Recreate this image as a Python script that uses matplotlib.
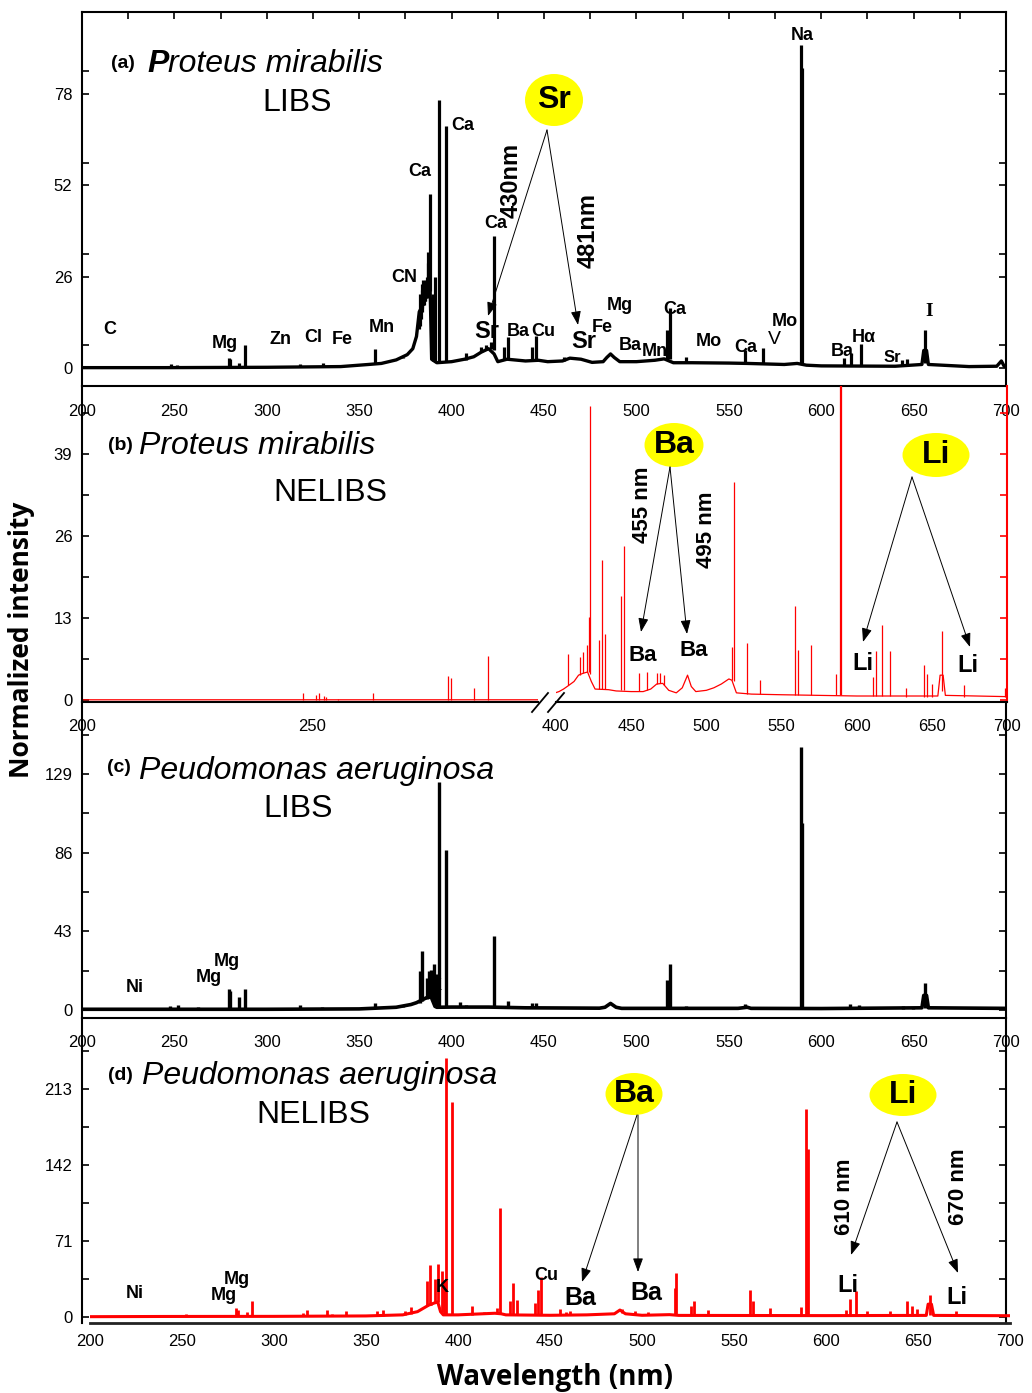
import numpy as np
import matplotlib
matplotlib.use('Agg')
import matplotlib.pyplot as plt
from matplotlib.patches import Ellipse, FancyArrowPatch
from matplotlib.lines import Line2D
from matplotlib.ticker import FixedLocator

plt.rcParams['font.family'] = ['Liberation Sans', 'DejaVu Sans']

W, H = 1032, 1393

# ------------------------------------------------------------------ data
x_ticks = [200, 250, 300, 350, 400, 450, 500, 550, 600, 650, 700]
b_left_ticks = [200, 250]
b_right_ticks = [400, 450, 500, 550, 600, 650, 700]
a_yticks = [0, 26, 52, 78]
b_yticks = [0, 13, 26, 39]
c_yticks = [0, 43, 86, 129]
d_yticks = [0, 71, 142, 213]

# (a) Proteus mirabilis, LIBS
a_base_nm = [200, 245, 300, 340, 355, 362, 370, 376, 379, 381, 382.5, 384.5, 386.5, 388.4, 389.2,
             392, 400, 407, 412, 416, 420, 423, 425, 430, 440, 447, 452, 460, 464, 470, 476, 482,
             484, 486, 488, 491, 500, 510, 515, 520, 530, 550, 560, 580, 587, 592, 600, 640, 654.5,
             655.5, 657, 658, 680, 695, 697.5, 699, 700]
a_base_int = [0.1, 0.1, 0.2, 0.4, 1.0, 1.3, 2.3, 3.8, 5.5, 9, 16, 18, 21, 22, 2.5,
              1.5, 1.8, 2.5, 3.2, 4.5, 5.5, 4, 1.8, 2.5, 2.0, 2.2, 1.8, 2.0, 2.8, 2.5, 1.6, 1.8,
              3.0, 4.0, 3.0, 1.8, 1.8, 2.2, 2.6, 1.5, 1.5, 1.4, 1.3, 1.0, 1.3, 0.8, 0.6, 0.5, 1.0,
              5.0, 5.0, 1.0, 0.4, 0.5, 2.0, 0.5, 0.4]
a_peak_nm = [247.9, 251.6, 263.0, 279.6, 280.3, 285.2, 288.2, 317.9, 330.2, 358.6, 373.5,
             382.4, 383.0, 383.5, 383.8, 384.2, 384.7, 385.0, 385.4, 385.7, 386.1, 386.5, 387.0,
             387.3, 387.6, 388.3, 389.8, 390.9, 393.4, 396.8,
             407.8, 416.0, 418.5, 421.5, 422.7, 428.5, 430.7, 443.4, 445.5, 460.7, 466.0,
             516.7, 518.3, 527.0, 559.0, 568.7, 588.9, 589.6, 612.5, 616.2, 621.7, 643.5, 646.5, 656.3]
a_peak_int = [1.2, 0.9, 0.7, 2.9, 2.7, 1.4, 6.6, 1.0, 1.4, 5.3, 3.0,
              15.0, 21.0, 20.0, 22.2, 24.0, 25.0, 23.0, 24.0, 24.0, 25.0, 26.0, 33.1,
              30.0, 30.0, 49.5, 21.0, 26.0, 76.4, 68.8,
              4.2, 6.0, 6.5, 7.5, 37.6, 6.0, 8.9, 6.1, 9.0, 3.0, 3.2,
              10.8, 17.0, 3.2, 5.1, 5.6, 92.0, 85.4, 2.8, 4.2, 6.8, 2.3, 2.5, 10.8]
a_peak_floor = [0.1, 0.1, 0.1, 0.1, 0.1, 0.1, 0.1, 0.3, 0.3, 1.1, 2.8,
                11, 12, 14, 16, 17, 18, 18, 19, 19, 20, 20, 21,
                21, 22, 22, 2, 1.6, 1.6, 1.7,
                2.4, 4.5, 5, 5.5, 5, 2.2, 2.4, 2.1, 2.1, 2.0, 2.6,
                2.5, 2.5, 1.5, 1.3, 1.1, 1.1, 1.1, 0.6, 0.6, 0.6, 0.5, 0.5, 1.5]

# (b) Proteus mirabilis, NELIBS
b_base_nm = [200, 299, 399.5, 402, 405, 408, 412, 415, 418, 421, 423.5, 426, 435, 440, 450, 458,
             463, 467, 471, 475, 480, 484, 487.5, 490, 493, 500, 505, 510, 515, 517, 520, 530,
             550, 600, 654, 655.5, 657.5, 659, 700]
b_base_int = [0.1, 0.1, 1.2, 1.4, 1.8, 2.3, 3.0, 4.0, 4.3, 4.5, 3.0, 1.8, 1.7, 1.5, 1.4, 1.4,
              1.8, 2.6, 2.7, 1.6, 1.2, 2.0, 4.0, 2.2, 1.4, 1.6, 2.0, 2.6, 3.4, 3.2, 1.2, 1.0,
              0.9, 0.7, 0.7, 4.0, 4.0, 0.8, 0.6]
b_peak_nm = [248.0, 250.9, 251.6, 252.5, 253.0, 255.6, 263.2, 279.6, 280.3, 285.2, 288.2,
             408.2, 416.0, 418.2, 420.4, 421.8, 422.7, 428.9, 430.3, 432.7, 443.5, 445.5,
             455.5, 460.7, 467.5, 469.5, 472.0, 516.9, 518.4, 527.0, 535.5, 559.0, 560.8,
             569.8, 586.5, 589.0, 589.6, 611.0, 613.0, 616.9, 622.5, 632.5, 644.6, 647.0,
             650.2, 656.5, 671.5, 698.5]
b_peak_int = [1.1, 0.9, 1.2, 0.7, 0.6, 0.3, 1.2, 3.8, 3.6, 2.0, 7.1,
              7.4, 6.9, 7.7, 8.7, 13.2, 46.6, 9.5, 22.3, 10.5, 16.6, 24.5,
              4.4, 4.5, 4.3, 4.4, 4.0, 8.4, 34.6, 9.1, 3.2, 15.0, 8.0,
              8.7, 4.2, 60.0, 60.0, 3.7, 7.9, 12.0, 7.8, 2.0, 5.6, 4.2,
              2.6, 11.0, 2.5, 2.0]
b_peak_floor = [0.1, 0.1, 0.1, 0.1, 0.1, 0.1, 0.1, 0.1, 0.1, 0.1, 0.1,
                2.4, 4.0, 4.3, 4.5, 4.5, 4.2, 1.8, 1.8, 1.8, 1.6, 1.6,
                1.5, 1.6, 2.6, 2.8, 2.4, 3.2, 3.0, 1.0, 1.0, 0.9, 0.9,
                0.9, 0.9, 0.9, 0.9, 0.7, 0.7, 0.7, 0.7, 0.6, 0.6, 0.6,
                0.6, 1.5, 0.6, 0.6]

# (c) Peudomonas aeruginosa, LIBS
c_base_nm = [200, 300, 350, 370, 378, 381, 383, 385, 387, 389, 391, 392, 400, 420, 440, 480,
             483, 486, 489, 492, 555, 560, 562, 600, 654.5, 655.5, 657, 658, 700]
c_base_int = [0.4, 0.4, 0.6, 1.5, 3.0, 4, 5, 6, 7, 7, 2, 1.5, 1.6, 1.6, 1.2, 1.0,
              1.5, 3.6, 1.5, 0.9, 0.9, 1.5, 0.9, 0.8, 1.2, 8, 8, 1.2, 0.9]
c_peak_nm = [247.5, 251.7, 263.0, 279.5, 280.3, 285.2, 288.2, 317.8, 330.0, 358.6, 373.8,
             383.0, 384.0, 386.5, 387.8, 388.6, 390.3, 391.3, 393.4, 396.8, 404.6, 407.8,
             415.0, 422.7, 430.5, 443.6, 445.5, 460.8, 516.8, 518.3, 526.8, 558.9, 568.5,
             588.9, 589.6, 610.5, 615.5, 620.5, 644.0, 649.5, 656.3]
c_peak_int = [2.2, 2.6, 1.5, 11.3, 10.2, 6.9, 11.7, 2.5, 1.5, 3.6, 2.6,
              21.5, 32.3, 17.5, 21.5, 22.0, 25.1, 19.5, 124.8, 87.5, 4.6, 2.8,
              1.8, 40.4, 4.9, 3.6, 3.9, 1.3, 16.4, 25.0, 2.0, 3.3, 1.8,
              144.0, 102.0, 1.5, 3.3, 2.5, 2.0, 1.5, 14.6]
c_peak_floor = [0.4, 0.4, 0.4, 0.4, 0.4, 0.4, 0.4, 0.5, 0.5, 1.0, 1.5,
                4, 5, 6, 7, 7, 4, 2, 1.5, 1.6, 1.6, 1.6,
                1.5, 1.6, 1.5, 1.3, 1.3, 0.9, 1.0, 1.0, 0.9, 0.9, 0.9,
                0.9, 0.9, 0.8, 0.8, 0.8, 0.8, 0.8, 1.2]

# (d) Peudomonas aeruginosa, NELIBS
d_base_nm = [200, 240, 300, 350, 370, 378, 382, 384, 387, 389, 390.5, 392, 400, 420, 423.5, 426,
             450, 470, 485, 488, 491, 500, 515, 520, 600, 654.5, 655.5, 657.3, 658.5, 700]
d_base_int = [0.3, 0.5, 0.6, 1.0, 2.0, 5.0, 9, 11, 13, 14, 5, 2, 2.0, 3.5, 3.0, 2.0,
              1.6, 2.0, 3, 6.5, 3, 1.6, 2.2, 1.5, 1.3, 1.5, 12, 12, 1.5, 1.2]
d_peak_nm = [252.0, 263.3, 279.6, 280.3, 285.2, 288.2, 298.8, 316.0, 318.0, 328.8, 331.5, 339.0,
             356.2, 359.5, 364.8, 371.4, 374.3, 383.2, 384.6, 385.5, 387.7, 389.1, 391.3, 392.4,
             393.4, 396.8, 407.7, 414.2, 421.4, 422.7, 428.0, 430.1, 432.2, 442.0, 443.4, 445.3,
             455.6, 458.5, 461.0, 489.0, 496.2, 503.5, 517.8, 518.7, 526.4, 528.2, 536.0, 558.9,
             560.1, 569.3, 586.2, 589.2, 590.0, 611.0, 612.8, 616.5, 622.2, 634.9, 644.0, 646.7,
             649.7, 656.4, 670.8]
d_peak_int = [2.8, 2.0, 8.1, 6.9, 4.7, 14.6, 1.5, 3.7, 6.2, 6.2, 3.0, 5.3,
              5.3, 6.9, 3.0, 5.3, 9.3, 33.2, 48.9, 13.4, 35.5, 49.8, 43.3, 34.9,
              242.0, 200.9, 9.9, 5.0, 8.0, 102.0, 15.2, 31.3, 16.0, 12.8, 24.9, 37.4,
              7.5, 5.0, 6.0, 7.8, 5.3, 5.0, 27.0, 41.1, 10.0, 15.2, 7.0, 24.9,
              15.0, 8.4, 9.0, 194.6, 156.7, 6.9, 16.8, 23.9, 6.0, 5.5, 14.6, 9.9,
              7.5, 20.8, 5.3]
d_peak_floor = [0.6, 0.6, 0.6, 0.6, 0.6, 0.6, 0.6, 0.8, 0.8, 0.8, 0.8, 0.8,
                1.2, 1.2, 1.5, 2.0, 2.5, 10, 11, 11, 13, 14, 5, 3,
                2.0, 2.0, 2.2, 2.5, 3.5, 4, 2.5, 2.5, 2.5, 2.0, 2.0, 2.0,
                1.5, 1.5, 1.5, 4, 1.5, 1.5, 2.5, 2.5, 1.5, 1.5, 1.5, 1.5,
                1.5, 1.5, 1.5, 1.5, 1.5, 1.3, 1.3, 1.3, 1.3, 1.3, 1.3, 1.3,
                1.3, 2.0, 1.2]

# ------------------------------------------------------------------ layout helpers
fig = plt.figure(figsize=(W / 100, H / 100), dpi=100)


def box(x0, y0, x1, y1):
    return [x0 / W, 1 - y1 / H, (x1 - x0) / W, (y1 - y0) / H]


def fx(x):
    return x / W


def fy(y):
    return 1 - y / H


RED = '#FF0000'
TICK_FS = 12


def style_y(ax, major, step, right=True, left=True):
    minor = [m + step / 2 for m in major]
    ax.yaxis.set_major_locator(FixedLocator(major))
    ax.yaxis.set_minor_locator(FixedLocator(minor))
    ax.tick_params(axis='y', which='both', direction='in', length=5, width=1.2,
                   left=left, right=right, labelleft=left, labelright=False,
                   labelsize=TICK_FS, pad=7)


def spectrum(ax, bx, by, px, py, pf, color, lw_base, lw_peak):
    ax.plot(bx, by, color=color, lw=lw_base, solid_joinstyle='round')
    ax.vlines(px, pf, py, color=color, lw=lw_peak)


# ------------------------------------------------------------------ panel a
ax_a = fig.add_axes(box(82, 12, 1006, 386))
ax_a.set_xlim(200, 700)
ax_a.set_ylim(-5.13, 101.4)
spectrum(ax_a, a_base_nm, a_base_int, a_peak_nm, a_peak_int, a_peak_floor, 'black', 2.4, 2.3)
ax_a.xaxis.set_major_locator(FixedLocator(x_ticks))
ax_a.xaxis.set_minor_locator(FixedLocator([t + 25 for t in x_ticks[:-1]]))
ax_a.tick_params(axis='x', which='both', direction='in', length=5, width=1.2,
                 bottom=False, top=True, labelsize=TICK_FS, pad=13)
style_y(ax_a, a_yticks, 13)
for s in ax_a.spines.values():
    s.set_linewidth(1.5)

# ------------------------------------------------------------------ panel b (broken axis)
b_ylim = (-0.25, 49.8)
ax_bl = fig.add_axes(box(82, 386, 538, 702))
ax_br = fig.add_axes(box(556, 386, 1007, 702))
for ax in (ax_bl, ax_br):
    spectrum(ax, b_base_nm, b_base_int, b_peak_nm, b_peak_int, b_peak_floor, RED, 0.9, 0.9)
    ax.set_ylim(*b_ylim)
    ax.spines['top'].set_visible(False)
    ax.spines['bottom'].set_linewidth(1.5)
    ax.patch.set_alpha(0)
ax_bl.set_xlim(200, 200 + 456 / 4.6)
ax_br.set_xlim(400, 700)
ax_bl.spines['right'].set_visible(False)
ax_bl.spines['left'].set_linewidth(1.5)
ax_br.spines['left'].set_visible(False)
ax_br.spines['right'].set_color(RED)
ax_br.spines['right'].set_linewidth(1.5)
ax_bl.xaxis.set_major_locator(FixedLocator(b_left_ticks))
ax_br.xaxis.set_major_locator(FixedLocator(b_right_ticks))
for ax in (ax_bl, ax_br):
    ax.tick_params(axis='x', which='both', length=0, labelsize=TICK_FS, pad=12)
style_y(ax_bl, b_yticks, 13, right=False)
style_y(ax_br, b_yticks, 13, left=False)
ax_br.tick_params(axis='y', which='both', colors=RED)

# break marks
for x0 in (532, 548):
    fig.add_artist(Line2D([fx(x0), fx(x0 + 16)], [fy(712), fy(693)], color='black', lw=1.3,
                          transform=fig.transFigure))

# ------------------------------------------------------------------ panel c
ax_c = fig.add_axes(box(82, 702, 1006, 1018))
ax_c.patch.set_alpha(0)
ax_c.set_xlim(200, 700)
ax_c.set_ylim(-4.37, 168.4)
spectrum(ax_c, c_base_nm, c_base_int, c_peak_nm, c_peak_int, c_peak_floor, 'black', 2.6, 2.4)
ax_c.spines['top'].set_visible(False)
for s in ('left', 'right', 'bottom'):
    ax_c.spines[s].set_linewidth(1.5)
ax_c.xaxis.set_major_locator(FixedLocator(x_ticks))
ax_c.tick_params(axis='x', which='both', length=0, labelsize=TICK_FS, pad=12)
style_y(ax_c, c_yticks, 43)

# ------------------------------------------------------------------ panel d
ax_dy = fig.add_axes(box(82, 1018, 1006, 1323))
ax_dy.patch.set_alpha(0)
ax_dy.set_ylim(-5.6, 279.3)
ax_dy.set_xticks([])
ax_dy.spines['top'].set_visible(False)
ax_dy.spines['bottom'].set_visible(False)
for s in ('left', 'right'):
    ax_dy.spines[s].set_linewidth(1.5)
style_y(ax_dy, d_yticks, 71)

ax_d = fig.add_axes(box(90, 1018, 1010, 1323))
ax_d.patch.set_alpha(0)
ax_d.set_xlim(200, 700)
ax_d.set_ylim(-5.6, 279.3)
spectrum(ax_d, d_base_nm, d_base_int, d_peak_nm, d_peak_int, d_peak_floor, RED, 2.2, 2.0)
for s in ('left', 'right', 'top'):
    ax_d.spines[s].set_visible(False)
ax_d.spines['bottom'].set_linewidth(2.0)
ax_d.spines['bottom'].set_color('#222222')
ax_d.set_yticks([])
ax_d.xaxis.set_major_locator(FixedLocator(x_ticks))
ax_d.tick_params(axis='x', which='both', length=0, labelsize=TICK_FS, pad=8)

# ------------------------------------------------------------------ text
def T(x, y, s, size=13, weight='bold', rot=0, family=None, style='normal', ha='center', va='center'):
    kw = {}
    if family is not None:
        kw['family'] = family
    return fig.text(fx(x), fy(y), s, fontsize=size, fontweight=weight, rotation=rot,
                    style=style, ha=ha, va=va, **kw)


# panel titles
T(123, 64, '(a)', 14)
tp = T(147, 64, 'P', 23, 'bold', style='italic', ha='left')
fig.canvas.draw()
bb = tp.get_window_extent()
fig.text(bb.x1 / W, fy(64), 'roteus mirabilis', fontsize=23, style='italic', ha='left', va='center')
T(297, 103, 'LIBS', 23, 'normal')

T(120, 446, '(b)', 14)
T(139, 446, 'Proteus mirabilis', 23, 'normal', style='italic', ha='left')
T(330, 493, 'NELIBS', 23, 'normal')

T(119, 768, '(c)', 14)
T(139, 771, 'Peudomonas aeruginosa', 23, 'normal', style='italic', ha='left')
T(298, 809, 'LIBS', 23, 'normal')

T(120, 1076, '(d)', 14)
T(142, 1076, 'Peudomonas aeruginosa', 23, 'normal', style='italic', ha='left')
T(313, 1115, 'NELIBS', 23, 'normal')

# panel a element labels
for (x, y, s) in [(110, 329, 'C'), (225, 344, 'Mg'), (280, 340, 'Zn'), (313, 337, 'Cl'),
                  (342, 339, 'Fe'), (382, 327, 'Mn'), (404, 277, 'CN'), (420, 172, 'Ca'),
                  (463, 126, 'Ca'), (496, 224, 'Ca'), (518, 331, 'Ba'), (543, 332, 'Cu'),
                  (602, 327, 'Fe'), (620, 305, 'Mg'), (630, 346, 'Ba'), (655, 352, 'Mn'),
                  (675, 309, 'Ca'), (709, 342, 'Mo'), (746, 348, 'Ca'), (785, 322, 'Mo'),
                  (802, 36, 'Na'), (842, 352, 'Ba'), (864, 338, 'Hα')]:
    T(x, y, s, 13)
T(892, 357, 'Sr', 12)
T(774, 340, 'V', 14, 'normal')
T(929, 312, 'I', 14, 'bold', family='Liberation Serif')
T(487, 331, 'Sr', 17)
T(584, 342, 'Sr', 17)
T(511, 180, '430nm', 17, rot=90)
T(588, 230, '481nm', 17, rot=90)

# panel b labels
T(643, 505, '455 nm', 16, rot=90)
T(707, 530, '495 nm', 16, rot=90)
T(643, 655, 'Ba', 16)
T(694, 651, 'Ba', 16)
T(863, 664, 'Li', 17)
T(968, 666, 'Li', 17)

# panel c labels
T(135, 988, 'Ni', 13)
T(209, 978, 'Mg', 13)
T(227, 961, 'Mg', 13)
T(436, 985, 'K', 12)

# panel d labels
T(135, 1294, 'Ni', 13)
T(224, 1295, 'Mg', 13)
T(237, 1280, 'Mg', 13)
T(442, 1288, 'K', 13)
T(546, 1275, 'Cu', 13)
T(580, 1298, 'Ba', 18)
T(646, 1293, 'Ba', 18)
T(848, 1285, 'Li', 17)
T(957, 1297, 'Li', 17)
T(845, 1197, '610 nm', 16, rot=90)
T(958, 1187, '670 nm', 16, rot=90)

# yellow ellipses with element symbols
for (cx, cy, w, h, s) in [(554, 100, 58, 52, 'Sr'), (674, 445, 59, 44, 'Ba'),
                          (936, 455, 67, 44, 'Li'), (634, 1094, 57, 42, 'Ba'),
                          (903, 1095, 67, 42, 'Li')]:
    fig.add_artist(Ellipse((fx(cx), fy(cy)), w / W, h / H, transform=fig.transFigure,
                           facecolor='#FFFF00', edgecolor='none', zorder=2))
    T(cx, cy, s, 23).set_zorder(4)

# arrows
for (x0, y0, x1, y1) in [(547, 130, 488, 316), (547, 130, 578, 325),
                         (670, 467, 641, 632), (670, 467, 687, 634),
                         (912, 477, 863, 642), (912, 477, 970, 647),
                         (637, 1115, 582, 1282), (638, 1115, 638, 1272),
                         (897, 1122, 851, 1255), (897, 1122, 958, 1273)]:
    fig.add_artist(FancyArrowPatch((fx(x0), fy(y0)), (fx(x1), fy(y1)), transform=fig.transFigure,
                                   arrowstyle='-|>,head_length=0.6,head_width=0.22',
                                   mutation_scale=14, lw=0.7, color='black',
                                   shrinkA=0, shrinkB=0, zorder=3))

# axis titles
fig.text(fx(22), fy(640), 'Normalized intensity', rotation=90, fontsize=19, fontweight='bold',
         family=['Open Sans', 'DejaVu Sans'], ha='center', va='center')
fig.text(fx(555), fy(1378), 'Wavelength (nm)', fontsize=20, fontweight='bold',
         family=['Open Sans', 'DejaVu Sans'], ha='center', va='center')

fig.savefig('out.png', dpi=100)
